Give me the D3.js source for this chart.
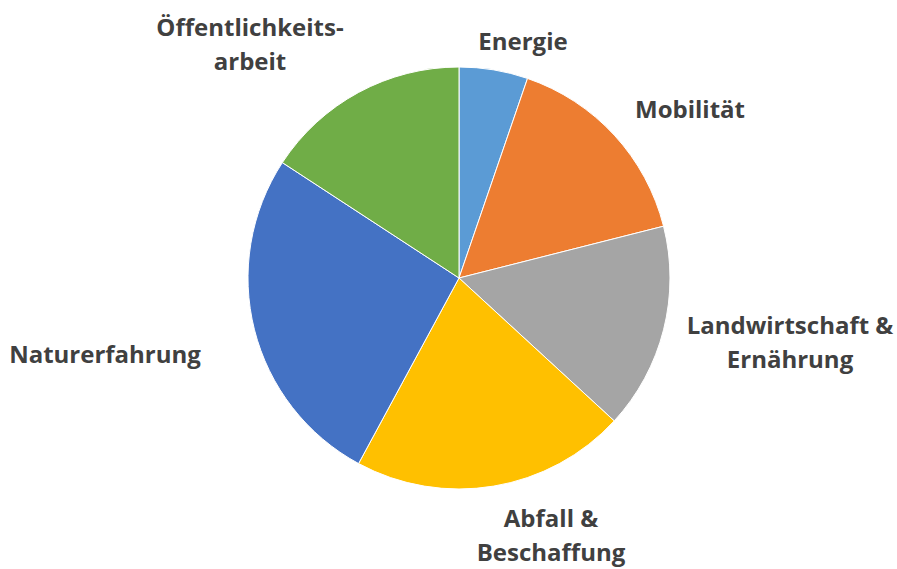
<!DOCTYPE html>
<html>
<head>
<meta charset="utf-8">
<script src="https://cdn.jsdelivr.net/npm/d3@7"></script>
<style>
  body { margin: 0; background: #fff; }
  text { font-family: "Open Sans", Lato, sans-serif; font-weight: bold; fill: #404040; }
</style>
</head>
<body>
<script>
// Data
const categories = ["Energie", "Mobilität", "Landwirtschaft & Ernährung", "Abfall & Beschaffung", "Naturerfahrung", "Öffentlichkeitsarbeit"];
const values = [1, 3, 3, 4, 5, 3];
const labelLines = [["Energie"], ["Mobilität"], ["Landwirtschaft &", "Ernährung"], ["Abfall &", "Beschaffung"], ["Naturerfahrung"], ["Öffentlichkeits-", "arbeit"]];
const colors = ["#5B9BD5", "#ED7D31", "#A5A5A5", "#FFC000", "#4472C4", "#70AD47"];

var width = 897, height = 569;
var cx = 459, cy = 278, radius = 211;

var svg = d3.select("body").append("svg")
    .attr("width", width)
    .attr("height", height);

var g = svg.append("g")
    .attr("transform", "translate(" + cx + "," + cy + ")");

var data = categories.map(function(c, i) { return { category: c, value: values[i], lines: labelLines[i] }; });

var pie = d3.pie()
    .sort(null)
    .value(function(d) { return d.value; });

var arc = d3.arc().innerRadius(0).outerRadius(radius);

var color = d3.scaleOrdinal().domain(categories).range(colors);

var arcs = pie(data);

g.selectAll("path")
    .data(arcs)
    .enter().append("path")
    .attr("d", arc)
    .attr("fill", function(d) { return color(d.data.category); })
    .attr("stroke", "#fff")
    .attr("stroke-width", 1);

// label centres, tuned against the reference
var labelPos = [
    { x: 523, y: 42 },
    { x: 690, y: 110 },
    { x: 790, y: 326 },
    { x: 551, y: 519 },
    { x: 105, y: 355 },
    { x: 250, y: 28 }
];

var lineHeight = 34;

svg.selectAll(".label")
    .data(arcs)
    .enter().append("text")
    .attr("class", "label")
    .attr("text-anchor", "middle")
    .attr("font-size", "24px")
    .each(function(d, i) {
      var t = d3.select(this);
      d.data.lines.forEach(function(line, j) {
        t.append("tspan")
          .attr("x", labelPos[i].x)
          .attr("y", labelPos[i].y + j * lineHeight)
          .attr("dy", "0.35em")
          .text(line);
      });
    });
</script>
</body>
</html>
